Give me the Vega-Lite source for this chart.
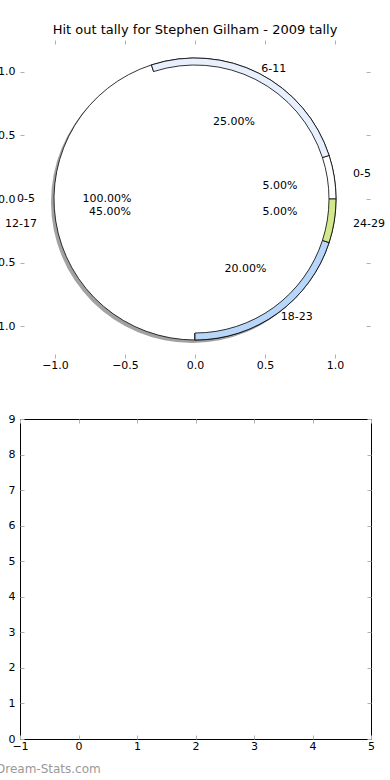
{
  "$schema": "https://vega.github.io/schema/vega-lite/v6.json",
  "autosize": {"type": "pad"},
  "padding": {"left": -12, "top": 23, "right": 0, "bottom": 0},
  "spacing": 42,
  "config": {
    "font": "DejaVu Sans",
    "view": {"stroke": null},
    "axis": {
      "domain": false,
      "grid": false,
      "tickColor": "#b0b0b0",
      "tickWidth": 1,
      "tickSize": -4,
      "labelFontSize": 11,
      "labelColor": "black",
      "labelFont": "DejaVu Sans",
      "labelPadding": 5,
      "labelFlush": false,
      "labelOverlap": false,
      "title": null
    },
    "axisY": {"labelPadding": 9}
  },
  "vconcat": [
    {
      "width": 350,
      "height": 318,
      "title": {"text": "Hit out tally for Stephen Gilham - 2009 tally", "fontSize": 13, "fontWeight": "normal", "font": "DejaVu Sans", "offset": 3, "color": "black"},
      "data": {"values": [
        {"age": "0-5", "share": 0.05, "k": 1},
        {"age": "6-11", "share": 0.25, "k": 2},
        {"age": "12-17", "share": 0.45, "k": 3},
        {"age": "18-23", "share": 0.20, "k": 4},
        {"age": "24-29", "share": 0.05, "k": 5}
      ]},
      "resolve": {"axis": {"x": "independent", "y": "independent"}},
      "layer": [
        {
          "mark": {"type": "point", "opacity": 0},
          "encoding": {
            "x": {"datum": 0, "type": "quantitative", "scale": {"domain": [-1.25, 1.25], "nice": false, "zero": false}, "axis": {"orient": "bottom", "values": [-1, -0.5, 0, 0.5, 1], "format": ".1f"}},
            "y": {"datum": 0, "type": "quantitative", "scale": {"domain": [-1.25, 1.25], "nice": false, "zero": false}, "axis": {"orient": "left", "values": [-1, -0.5, 0, 0.5, 1], "format": ".1f"}}
          }
        },
        {
          "mark": {"type": "point", "opacity": 0},
          "encoding": {
            "x": {"datum": 0, "type": "quantitative", "axis": {"orient": "top", "values": [-1, -0.5, 0, 0.5, 1], "labels": false}},
            "y": {"datum": 0, "type": "quantitative", "axis": {"orient": "right", "values": [-1, -0.5, 0, 0.5, 1], "labels": false}}
          }
        },
        {
          "data": {"values": [{"share": 1}]},
          "mark": {"type": "arc", "outerRadius": 141, "innerRadius": 0, "fill": "#555555", "opacity": 0.55, "xOffset": -3, "yOffset": 3},
          "encoding": {
            "theta": {"field": "share", "type": "quantitative", "stack": true, "scale": {"domain": [0, 1], "range": [7.853981634, 1.570796327]}}
          }
        },
        {
          "mark": {"type": "arc", "outerRadius": 141, "innerRadius": 0, "stroke": "black", "strokeWidth": 0.8},
          "encoding": {
            "theta": {"field": "share", "type": "quantitative", "stack": true},
            "order": {"field": "k"},
            "fill": {"field": "age", "type": "nominal", "legend": null, "scale": {"domain": ["0-5", "6-11", "12-17", "18-23", "24-29"], "range": ["#ffffff", "#e9f0fd", "#ffffff", "#b7d6f9", "#d3e88d"]}}
          }
        },
        {
          "data": {"values": [{"age": "0-5", "share": 1}]},
          "mark": {"type": "arc", "outerRadius": 134, "innerRadius": 0, "fill": "white", "strokeWidth": 0},
          "encoding": {
            "theta": {"field": "share", "type": "quantitative", "stack": true}
          }
        },
        {
          "mark": {"type": "arc", "outerRadius": 141, "innerRadius": 134, "stroke": "black", "strokeWidth": 0.8},
          "encoding": {
            "theta": {"field": "share", "type": "quantitative", "stack": true},
            "order": {"field": "k"},
            "fill": {"field": "age", "type": "nominal", "legend": null},
            "opacity": {"condition": {"test": "datum.age === '12-17'", "value": 0}, "value": 1}
          }
        },
        {
          "mark": {"type": "text", "radius": 160, "align": "left", "baseline": "middle", "fontSize": 11, "color": "black"},
          "encoding": {
            "theta": {"field": "share", "type": "quantitative", "stack": true},
            "order": {"field": "k"},
            "text": {"condition": {"test": "datum.age === '0-5' || datum.age === '24-29'", "field": "age"}, "value": ""}
          }
        },
        {
          "mark": {"type": "text", "radius": 146, "align": "left", "baseline": "middle", "fontSize": 11, "color": "black"},
          "encoding": {
            "theta": {"field": "share", "type": "quantitative", "stack": true},
            "order": {"field": "k"},
            "text": {"condition": {"test": "datum.age === '6-11' || datum.age === '18-23'", "field": "age"}, "value": ""}
          }
        },
        {
          "mark": {"type": "text", "radius": 160, "align": "right", "baseline": "middle", "fontSize": 11, "color": "black"},
          "encoding": {
            "theta": {"field": "share", "type": "quantitative", "stack": true},
            "order": {"field": "k"},
            "text": {"condition": {"test": "datum.age === '12-17'", "field": "age"}, "value": ""}
          }
        },
        {
          "mark": {"type": "text", "radius": 86, "align": "center", "baseline": "middle", "fontSize": 11, "color": "black"},
          "encoding": {
            "theta": {"field": "share", "type": "quantitative", "stack": true},
            "order": {"field": "k"},
            "text": {"field": "share", "type": "quantitative", "format": ".2%"}
          }
        },
        {
          "data": {"values": [{"age": "0-5", "share": 1}]},
          "layer": [
            {
              "mark": {"type": "text", "radius": 160, "align": "right", "baseline": "middle", "fontSize": 11, "color": "black"},
              "encoding": {
                "theta": {"field": "share", "type": "quantitative", "stack": true},
                "text": {"field": "age"}
              }
            },
            {
              "mark": {"type": "text", "radius": 88, "align": "center", "baseline": "middle", "fontSize": 11, "color": "black"},
              "encoding": {
                "theta": {"field": "share", "type": "quantitative", "stack": true},
                "text": {"field": "share", "type": "quantitative", "format": ".2%"}
              }
            }
          ]
        }
      ]
    },
    {
      "width": 351,
      "height": 320,
      "view": {"stroke": "black", "strokeWidth": 1},
      "title": {"text": "Dream-Stats.com", "orient": "bottom", "anchor": "start", "color": "#999999", "fontSize": 12, "fontWeight": "normal", "font": "DejaVu Sans", "dx": -12, "offset": 13},
      "resolve": {"axis": {"x": "independent", "y": "independent"}},
      "layer": [
        {
          "mark": {"type": "point", "opacity": 0},
          "encoding": {
            "x": {"datum": 0, "type": "quantitative", "scale": {"domain": [-1, 5], "nice": false, "zero": false}, "axis": {"orient": "bottom", "values": [-1, 0, 1, 2, 3, 4, 5], "format": "d"}},
            "y": {"datum": 0, "type": "quantitative", "scale": {"domain": [0, 9], "nice": false, "zero": false}, "axis": {"orient": "left", "values": [0, 1, 2, 3, 4, 5, 6, 7, 8, 9], "format": "d"}}
          }
        },
        {
          "mark": {"type": "point", "opacity": 0},
          "encoding": {
            "x": {"datum": 0, "type": "quantitative", "axis": {"orient": "top", "values": [-1, 0, 1, 2, 3, 4, 5], "labels": false}},
            "y": {"datum": 0, "type": "quantitative", "axis": {"orient": "right", "values": [0, 1, 2, 3, 4, 5, 6, 7, 8, 9], "labels": false}}
          }
        }
      ]
    }
  ]
}
